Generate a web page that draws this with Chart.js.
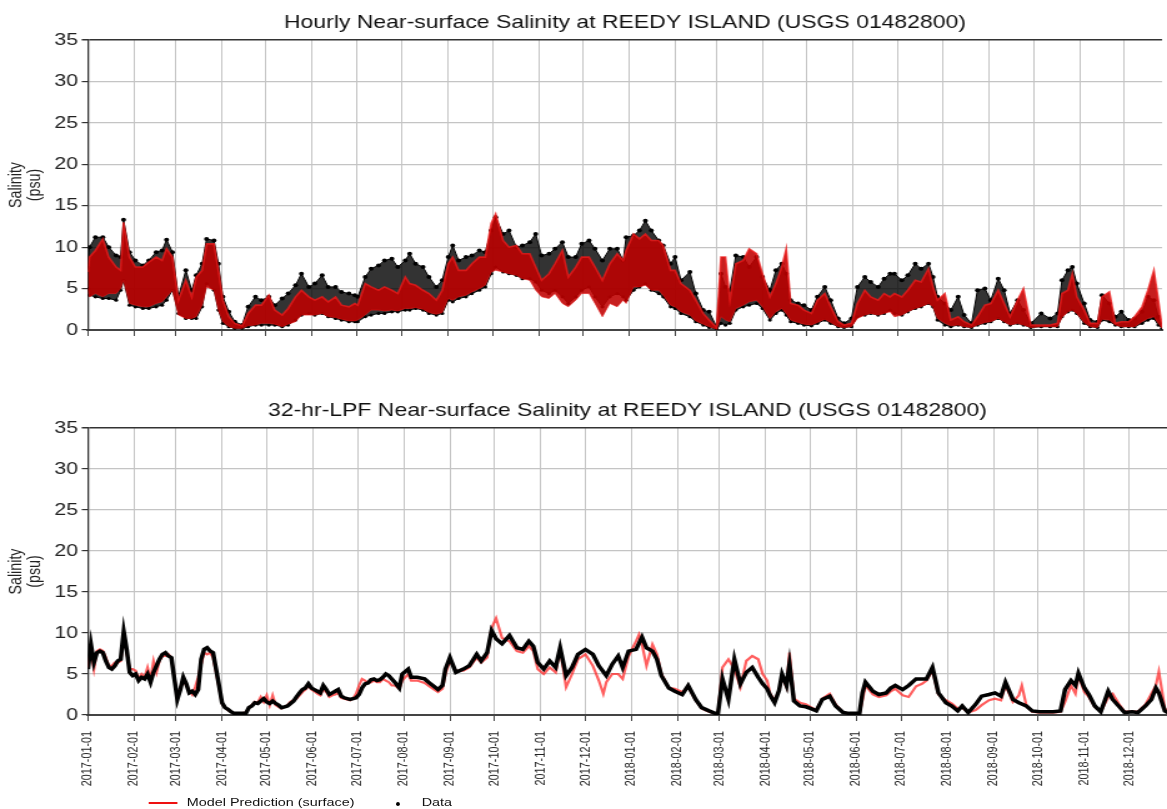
<!DOCTYPE html>
<html><head><meta charset="utf-8">
<script src="https://cdn.jsdelivr.net/npm/chart.js@4/dist/chart.umd.min.js"></script>
<style>
html,body{margin:0;padding:0;background:#fff;overflow:hidden;width:1167px;height:809px;}
#wrap{position:absolute;left:0;top:0;width:934px;height:809px;transform:scaleX(1.2495);transform-origin:0 0;}
canvas{position:absolute;left:0;}
#c1{top:0;}
#c2{top:388px;}
.lg{position:absolute;font:11.5px "Liberation Sans",Arial,sans-serif;color:#111;white-space:nowrap;}
</style></head><body>
<div id="wrap">
<canvas id="c1" width="934" height="345"></canvas>
<canvas id="c2" width="934" height="407"></canvas>
<div class="lg" style="left:118.5px;top:802px;width:23.5px;height:2px;background:#ee1111;"></div>
<div class="lg" style="left:149.5px;top:796px;">Model Prediction (surface)</div>
<div class="lg" style="left:317px;top:802px;width:3.4px;height:4px;border-radius:50%;background:#000;"></div>
<div class="lg" style="left:337.5px;top:796px;">Data</div>
</div>
<script>
// ---- DATA (days since 2017-01-01) ----
const monthTickDays = [0,31,59,90,120,151,181,212,243,273,304,334,365,396,424,455,485,516,546,577,608,638,669,699];
const monthTickLabels = ['2017-01-01','2017-02-01','2017-03-01','2017-04-01','2017-05-01','2017-06-01','2017-07-01','2017-08-01','2017-09-01','2017-10-01','2017-11-01','2017-12-01','2018-01-01','2018-02-01','2018-03-01','2018-04-01','2018-05-01','2018-06-01','2018-07-01','2018-08-01','2018-09-01','2018-10-01','2018-11-01','2018-12-01'];
const yTickValues = [0,5,10,15,20,25,30,35];

// hourly observations: [day, low envelope, high envelope]
const hourlyObs = [[0,5,7.5],[1,4.2,10],[5,4,11.2],[10,3.8,11.2],[14,3.8,10],[19,3.6,9],[22,4.8,8.8],[24,6,13.3],[28,3,9.4],[32,2.8,8.4],[37,2.6,7.8],[41,2.6,8.4],[46,2.8,9.4],[50,3,9.6],[53,3.6,10.9],[57,4.8,9.4],[61,2,4],[66,1.4,7.2],[70,1.4,4.8],[73,1.4,6.6],[77,2.8,8],[80,5.6,11],[85,4.8,10.8],[88,2.4,8],[91,0.8,4],[95,0.4,2.2],[99,0.2,1],[104,0.2,0.6],[108,0.4,2.8],[113,0.6,4],[117,0.6,3.6],[122,0.6,4],[126,0.6,3],[131,0.4,3.8],[135,0.6,4.4],[140,1.2,5.4],[144,1.8,6.8],[149,2,5.2],[153,1.8,5.6],[158,2,6.6],[162,1.6,5.2],[167,1.4,5.2],[171,1.2,4.6],[176,1,4.4],[180,1,4.2],[182,1,4],[187,1.6,6.4],[191,1.8,7.4],[196,2,7.8],[200,2,8.4],[205,2.2,8.6],[209,2.2,7.6],[214,2.4,8.4],[217,2.4,9.2],[221,2.6,8],[226,2.4,7.6],[230,2,6.4],[235,1.8,5.2],[239,2,6],[243,3.6,8.8],[246,3.4,10.2],[250,3.8,8.4],[255,4,8.8],[259,4.4,9],[264,4.8,9.6],[268,5.2,9.4],[272,6.8,12],[275,7.6,13.6],[280,7,11.6],[284,6.8,12],[289,6.6,10],[293,6.2,10.2],[298,6.2,10.6],[302,5.8,11.6],[306,4.8,9],[311,4.4,9.2],[315,4.8,9.8],[320,4,10.6],[324,3.2,8.8],[329,4,8.8],[333,4.8,10.4],[338,5.2,10.8],[342,4,9.8],[347,2.8,8.4],[352,4,9.8],[357,4.4,9.8],[361,4,8.4],[363,3.6,11.2],[368,4.8,11.4],[372,5.2,12],[376,5.6,13.2],[380,4.8,12],[385,4.4,10.8],[388,4,10.2],[393,2.8,8],[396,2.6,8.8],[400,2,6],[406,1.6,7],[410,1,4.4],[415,0.6,2.4],[419,0.3,2.2],[424,0.1,0.4],[427,0.8,6.8],[430,0.6,5.2],[433,0.8,4.8],[437,2.4,9],[442,2.8,8.8],[446,3,7.6],[451,3.2,8.8],[455,2.6,6.4],[460,1.2,4.8],[464,2,7.2],[468,2.4,8],[471,1.8,6.8],[474,1,3.6],[479,0.8,3.2],[483,0.6,3],[488,0.5,2.4],[492,0.8,4],[497,1.2,5.2],[501,0.8,3.6],[506,0.4,1.4],[510,0.3,0.8],[515,0.4,1.4],[519,1.6,5.2],[524,1.8,6.4],[528,2,5.8],[533,1.8,5.2],[537,2,6.2],[541,2.4,6.8],[544,2,6.8],[549,1.8,6],[553,2.2,6.6],[558,2.6,8],[562,2.8,7.4],[567,3.2,8],[570,2.8,6.4],[573,1.2,4],[578,0.6,3.2],[582,0.4,2.4],[587,0.6,4],[591,0.4,1.8],[596,0.3,0.8],[600,0.6,4.8],[605,0.8,5],[609,1,3.6],[614,1.4,6.2],[618,1,4.8],[622,0.6,2],[627,0.8,3.6],[631,0.6,2.4],[636,0.3,0.8],[643,0.4,2],[649,0.4,1.4],[654,0.4,2],[657,1.6,6],[661,2.2,7.2],[664,2.4,7.6],[667,2,5.6],[672,0.8,3.2],[676,0.4,1.2],[681,0.3,1],[684,1.2,4.2],[689,1,3.2],[693,0.6,1.6],[697,0.4,2.2],[702,0.4,1.2],[706,0.4,1.4],[711,0.8,2.2],[715,1.2,4],[719,1.4,3.6],[722,0.6,1.6],[724.5,0.2,0.6]];

// hourly model: [day, low envelope, high envelope]
const hourlyModel = [[0,5,7],[1,4,8.8],[5,4.4,9.6],[10,4,11],[14,4.4,8.8],[19,4.4,7.6],[22,5,7.2],[24,6,13],[28,3.2,8.8],[32,3,7.6],[37,2.8,7.6],[41,2.8,8.2],[46,3.2,8.8],[50,3.4,8.4],[53,4,9.8],[57,4.8,8.8],[61,1.8,3.6],[66,1.4,6],[70,1.4,4],[73,1.6,6.4],[77,3,7.2],[80,5.2,10.4],[85,4.8,10.4],[88,2.4,7.2],[91,1,3.6],[95,0.4,1.6],[99,0.2,0.8],[104,0.2,0.5],[108,0.5,2],[113,0.6,3],[117,0.8,3],[122,0.8,4.2],[126,0.7,2.4],[131,0.4,1.8],[135,0.7,2.6],[140,1,4],[144,1.8,4.8],[149,1.8,4],[153,1.8,3.6],[158,2,4],[162,1.6,3.4],[167,1.5,4],[171,1.3,3],[176,1.1,2.8],[180,1.1,3.2],[182,1.2,3],[187,1.8,5.6],[191,2.4,5.2],[196,2.4,4.8],[200,2.3,5.2],[205,2.4,4.8],[209,2.3,4.4],[214,2.6,6.4],[217,2.6,5.6],[221,2.7,5.4],[226,2.5,4.8],[230,2.1,4.4],[235,1.9,3.6],[239,2.1,4.8],[243,3.8,8],[246,3.6,8.8],[250,4,7.2],[255,4.2,7.2],[259,4.6,8],[264,5,8.8],[268,5.4,8.8],[272,7,12.9],[275,7.2,14],[280,7,10.8],[284,6.8,10],[289,6.6,10.2],[293,6.2,9.2],[298,6,9.2],[302,4.8,7.6],[306,4,6],[311,3.8,6.8],[315,4.4,8],[320,3.2,9.6],[324,2.8,6.4],[329,3.6,7.6],[333,4.4,8.8],[338,4.4,8.8],[342,3.2,7.6],[347,1.6,6],[352,3.2,8],[357,2.8,9.2],[361,3.6,8.4],[363,3.2,9.6],[368,5.2,11.6],[372,5.2,11],[376,5.4,11.6],[380,4.8,10.8],[385,4.8,10.8],[388,4.2,10.2],[393,3,7.2],[396,2.8,7.2],[400,2.2,5.6],[406,1.8,4.8],[410,1.1,3.6],[415,0.7,2],[419,0.4,1.2],[424,0.1,0.3],[427,1.6,8.8],[430,1.2,8.8],[433,1,3.6],[437,2.6,8],[442,3,8.4],[446,3.4,9.8],[451,3.6,9.2],[455,2.8,6.8],[460,1.4,4],[464,2.2,5.6],[468,2.6,7.6],[471,2,9.8],[474,1.2,3.2],[479,0.9,3],[483,0.7,2.4],[488,0.6,2],[492,0.9,3.6],[497,1.3,4.4],[501,0.9,2.8],[506,0.4,1],[510,0.3,0.6],[515,0.4,0.8],[519,1.4,3.2],[524,1.8,4.8],[528,2,4],[533,1.8,3.6],[537,2,4.4],[541,2.2,4],[544,1.6,4.4],[549,1.8,4],[553,2.2,4.8],[558,2.6,6],[562,2.8,5.8],[567,3.2,7.4],[570,2.8,5.2],[573,1.4,3.6],[578,0.8,4.4],[582,0.5,1.2],[587,0.6,1.6],[591,0.4,1],[596,0.3,0.6],[600,0.6,1.6],[605,0.9,3],[609,1,3.2],[614,1.4,4.8],[618,1,3.2],[622,0.6,1.6],[627,0.8,3.6],[631,0.6,5],[636,0.3,0.6],[643,0.4,0.6],[649,0.4,0.6],[654,0.4,0.8],[657,1.5,4.4],[661,2.2,4.8],[664,2.4,6.8],[667,2,4],[672,0.9,2.4],[676,0.4,0.8],[681,0.3,0.8],[684,1.3,4],[689,1.2,4.6],[693,0.6,0.8],[697,0.4,1],[702,0.4,1],[706,0.4,1.6],[711,1,2.8],[715,1.4,4.8],[719,1.6,7.2],[722,0.8,3.6],[724.5,0.2,0.4]];

// 32-hr low-pass filtered: [day, value]
const lpfData = [[0,5.6],[2,8.6],[4,6.4],[6,7.6],[8,7.8],[10,7.6],[12,6.6],[14,5.8],[16,5.6],[18,6],[20,6.6],[22,6.8],[24,10.2],[26,8],[28,5.2],[30,4.8],[32,5],[34,4.2],[36,4.6],[38,4.4],[40,5],[42,4],[44,5.2],[46,6],[48,6.8],[50,7.4],[52,7.6],[54,7.2],[56,7],[58,4.4],[60,1.9],[62,3.1],[64,4.6],[66,3.8],[68,2.7],[70,2.9],[72,2.5],[74,3.1],[76,6.8],[78,8],[80,8.2],[82,7.8],[84,7.6],[86,5.6],[88,3.6],[90,1.5],[92,0.9],[94,0.7],[96,0.4],[98,0.2],[102,0.2],[106,0.2],[108,0.9],[110,1.1],[112,1.5],[114,1.4],[116,1.7],[118,2],[120,1.6],[122,1.4],[124,1.7],[126,1.4],[128,1.2],[130,0.9],[132,1],[134,1.1],[136,1.4],[138,1.7],[140,2.2],[142,2.7],[144,3.1],[146,3.3],[148,3.8],[150,3.3],[152,3.1],[154,2.9],[156,2.7],[158,3.6],[160,3.1],[162,2.5],[164,2.7],[166,2.9],[168,3.1],[170,2.3],[172,2.1],[174,2],[176,1.9],[178,2],[180,2.1],[182,2.5],[184,3.3],[186,3.8],[188,3.9],[190,4.3],[192,4.4],[194,4.2],[196,4.3],[198,4.6],[200,5],[202,4.8],[204,4.4],[206,4],[209,3.3],[211,5],[215,5.6],[217,4.6],[221,4.6],[226,4.4],[230,3.8],[235,3.1],[238,3.6],[240,5.6],[243,7],[247,5.2],[252,5.6],[256,6],[261,7.4],[264,6.6],[268,7.6],[271,10.3],[274,9.3],[278,8.7],[283,9.7],[288,8.2],[292,8],[296,9],[299,8.4],[302,6.4],[306,5.6],[310,6.6],[314,5.8],[317,8.2],[321,4.8],[325,5.8],[329,7.4],[334,8],[339,7.4],[343,6],[348,4.8],[352,6.2],[356,7.2],[359,5.8],[363,7.8],[368,8],[372,9.5],[375,8.2],[379,7.8],[382,6.8],[385,4.8],[390,3.3],[394,2.9],[399,2.5],[403,3.6],[408,1.9],[412,0.9],[417,0.5],[421,0.2],[423,0.2],[426,4.4],[430,1.9],[434,6.8],[438,3.8],[442,5.2],[446,5.8],[450,4.6],[453,3.8],[456,3.2],[458,2.4],[461,1.5],[464,3],[466,5],[469,3.6],[471,6.2],[474,1.7],[478,1.1],[482,1],[485,0.8],[489,0.5],[493,1.9],[498,2.3],[502,1.1],[507,0.3],[511,0.2],[518,0.2],[520,2.7],[522,4],[527,2.9],[531,2.5],[536,2.7],[539,3.3],[542,3.6],[547,3.1],[551,3.6],[556,4.4],[560,4.4],[563,4.4],[567,5.8],[571,2.7],[576,1.5],[580,1.1],[584,0.5],[587,1.1],[591,0.3],[596,1.3],[600,2.3],[605,2.5],[609,2.7],[613,2.3],[616,4],[621,1.9],[625,1.5],[630,1.1],[634,0.5],[639,0.4],[648,0.4],[653,0.5],[656,3.1],[660,4.2],[663,3.6],[665,5.1],[669,3.3],[672,2.5],[676,1.1],[680,0.4],[685,2.9],[688,1.9],[692,1.1],[696,0.3],[701,0.4],[705,0.3],[710,1.1],[714,1.9],[717,3.3],[719,2.7],[723,0.5],[726,0.2]];

const lpfModel = [[0,5.8],[2,7.8],[4,5.6],[6,7.8],[8,8],[10,7.8],[12,7],[14,6],[16,6],[18,6.4],[20,6.4],[22,6.6],[24,9.8],[26,7.6],[28,5.6],[30,5.6],[32,5.4],[34,4.4],[36,5],[38,4.6],[40,5.8],[42,4.4],[44,6.6],[46,5.2],[48,6.6],[50,7.2],[52,7.2],[54,7.4],[56,7],[58,4.6],[60,2],[62,3.3],[64,4.4],[66,3.6],[68,3],[70,2.5],[72,3.4],[74,4.6],[76,6.2],[78,7.6],[80,7.4],[82,7.6],[84,7],[86,5.2],[88,3.4],[90,1.4],[92,0.9],[94,0.6],[96,0.4],[98,0.2],[102,0.2],[106,0.3],[108,0.8],[110,1.2],[112,1.6],[114,1.5],[116,2.2],[118,1.6],[120,2.4],[122,1.2],[124,2.4],[126,1.2],[128,1],[130,0.8],[132,1],[134,1.2],[136,1.6],[138,1.8],[140,2],[142,2.4],[144,2.8],[146,3.1],[148,3.6],[150,3.1],[152,2.9],[154,2.6],[156,2.4],[158,3.2],[160,2.8],[162,2.2],[164,2.4],[166,2.5],[168,2.7],[170,2.1],[172,2],[174,1.9],[176,1.8],[178,2],[180,2.6],[182,3.6],[184,4.4],[186,4.2],[188,3.9],[190,4],[192,4.2],[194,4],[196,4],[198,4.4],[200,4.2],[202,4],[204,3.6],[206,3.6],[209,3.2],[211,4.2],[215,5],[217,4.2],[221,4.2],[226,3.9],[230,3.4],[235,2.8],[238,3.2],[240,5],[243,6.6],[247,5.4],[252,5.4],[256,5.8],[261,7],[264,6.4],[268,7],[271,10.6],[274,11.8],[278,9.4],[283,9],[288,7.8],[292,7.6],[296,8.4],[299,7.8],[302,5.6],[306,5],[310,5.8],[314,5.2],[317,8],[321,3.4],[325,5],[329,6.8],[334,7.4],[339,6],[343,4.2],[346,2.6],[348,4],[352,5],[356,5],[359,4.4],[363,7.2],[368,9],[370,9.8],[372,8.6],[375,6],[379,8.6],[382,7.4],[385,5],[390,3.3],[394,3.2],[399,2.8],[403,3.4],[408,1.8],[412,0.8],[417,0.4],[421,0.2],[423,0.2],[426,5.8],[430,6.8],[434,5.6],[438,3.4],[442,6.6],[446,7.2],[450,6.8],[453,5],[456,4.2],[458,2.6],[461,1.8],[464,3],[466,4.6],[469,3.4],[471,7.6],[474,2],[478,1.5],[482,1.3],[485,1],[489,0.6],[493,2],[498,2.6],[502,1.3],[507,0.3],[511,0.2],[518,0.2],[520,1.8],[522,3.6],[527,2.5],[531,2.2],[536,2.4],[539,2.9],[542,3.2],[547,2.4],[551,2.2],[556,3.5],[560,3.8],[563,4.2],[567,5.4],[571,2.5],[576,1.8],[580,1.4],[584,0.8],[587,0.9],[591,0.3],[596,0.6],[600,1.2],[605,1.8],[609,2],[613,1.8],[616,3.6],[621,1.6],[625,2.4],[627,3.6],[630,1.2],[634,0.4],[639,0.3],[648,0.3],[653,0.4],[656,1.6],[660,3.6],[663,2.6],[665,4.8],[669,2.8],[672,2.2],[676,1],[680,0.4],[685,2.2],[688,2.6],[692,1.4],[696,0.4],[701,0.4],[705,0.4],[710,1.3],[714,2.6],[717,3.6],[719,5.3],[723,0.8],[726,0.2]];

const xMaxDay = 724.5;
const topTitle = 'Hourly Near-surface Salinity at REEDY ISLAND (USGS 01482800)';
const bottomTitle = '32-hr-LPF Near-surface Salinity at REEDY ISLAND (USGS 01482800)';

// ---- CHARTS ----
const FONT = '"Liberation Sans", Arial, Helvetica, sans-serif';
const pts = (arr, k) => arr.map(r => ({x: r[0], y: r[k]}));

function options(title, showLabels, xHeight) {
  return {
    responsive: false, animation: false, devicePixelRatio: 1,
    layout: {padding: 0},
    plugins: {
      legend: {display: false}, tooltip: {enabled: false},
      title: {display: true, text: title, fullSize: false, color: '#111',
        font: {family: FONT, size: 18.4, weight: 'normal'}, padding: {top: 12, bottom: 6}}
    },
    scales: {
      x: {
        type: 'linear', min: 0, max: xMaxDay,
        afterBuildTicks: s => { s.ticks = monthTickDays.map(v => ({value: v})); },
        afterFit: s => { s.height = xHeight; },
        grid: {color: '#c4c4c4', lineWidth: 1, tickColor: '#444', tickLength: 6, drawTicks: true},
        border: {display: true, color: '#444', width: 2},
        ticks: {display: showLabels, autoSkip: false, minRotation: 90, maxRotation: 90,
          padding: 10, color: '#222', font: {family: FONT, size: 10.8},
          callback: v => { const i = monthTickDays.indexOf(v); return i >= 0 ? monthTickLabels[i] : ''; }}
      },
      y: {
        min: 0, max: 35,
        afterBuildTicks: s => { s.ticks = yTickValues.map(v => ({value: v})); },
        afterFit: s => { s.width = 70.4; },
        grid: {color: c => (c.tick && (c.tick.value === 35 || c.tick.value === 0)) ? '#333' : '#c4c4c4',
               lineWidth: c => (c.tick && c.tick.value === 35) ? 1.5 : 1.2,
               tickColor: '#333', tickLength: 5},
        border: {display: true, color: '#333', width: 1.3},
        ticks: {color: '#222', padding: 3, font: {family: FONT, size: 17}},
        title: {display: true, text: ['Salinity', '(psu)'], color: '#222', padding: {top: 6, bottom: 0},
          font: {family: FONT, size: 14.3, lineHeight: 1.05}}
      }
    }
  };
}

new Chart(document.getElementById('c1'), {
  type: 'line',
  data: {datasets: [
    {label: 'modelLow', data: pts(hourlyModel, 1), order: 1, borderColor: 'rgba(225,20,20,0.6)', borderWidth: 1, pointRadius: 0, fill: false, tension: 0},
    {label: 'Model Prediction (surface)', data: pts(hourlyModel, 2), order: 1, borderColor: 'rgba(235,25,25,0.8)', borderWidth: 1.6, pointRadius: 0, fill: '-1', backgroundColor: 'rgba(190,0,0,0.88)', tension: 0},
    {label: 'dataLow', data: pts(hourlyObs, 1), order: 2, borderColor: '#000', borderWidth: 1, pointRadius: 1.6, pointBackgroundColor: '#000', pointBorderWidth: 0, fill: false, tension: 0},
    {label: 'Data', data: pts(hourlyObs, 2), order: 2, borderColor: '#000', borderWidth: 1, pointRadius: 2, pointBackgroundColor: '#000', pointBorderWidth: 0, fill: '-1', backgroundColor: 'rgba(0,0,0,0.8)', tension: 0}
  ]},
  options: options(topTitle, false, 15)
});

new Chart(document.getElementById('c2'), {
  type: 'line',
  data: {datasets: [
    {label: 'Data', data: lpfData.map(r => ({x: r[0], y: r[1]})), order: 1, borderColor: '#000', borderWidth: 3.5, pointRadius: 0, fill: false, tension: 0},
    {label: 'Model Prediction (surface)', data: lpfModel.map(r => ({x: r[0], y: r[1]})), order: 2, borderColor: 'rgba(255,40,40,0.75)', borderWidth: 2.2, pointRadius: 0, fill: false, tension: 0}
  ]},
  options: options(bottomTitle, true, 80)
});
</script>
</body></html>
